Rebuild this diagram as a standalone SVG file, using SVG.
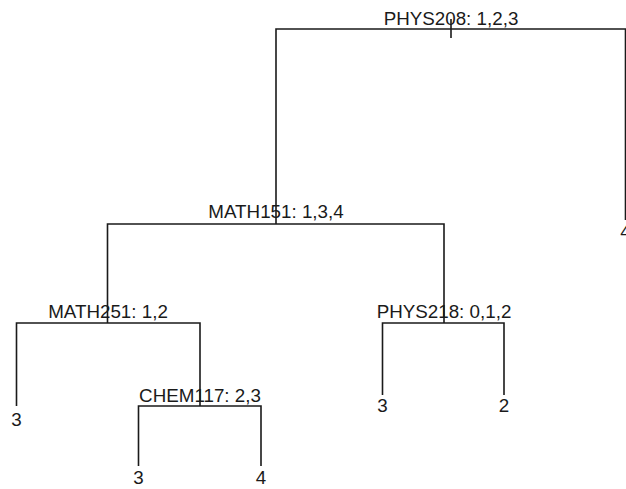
<svg xmlns="http://www.w3.org/2000/svg" width="626" height="489" viewBox="0 0 626 489">
  <style>
    .edge { fill: none; stroke: #1a1a1a; stroke-width: 1.6; stroke-linecap: butt; }
    text { font-family: "Liberation Sans", Arial, sans-serif; font-size: 18.8px; fill: #1a1a1a; text-anchor: middle; }
  </style>
  <rect width="626" height="489" fill="#ffffff"/>

  <!-- tree branches -->
  <g id="connectors">
    <!-- root stub -->
    <path class="edge" d="M451 19 V38"/>
    <!-- root split -->
    <path class="edge" d="M276 224 V29 H625.5 V220"/>
    <!-- MATH151 split -->
    <path class="edge" d="M107.5 323 V224 H444 V323"/>
    <!-- MATH251 split -->
    <path class="edge" d="M16.5 406 V323 H200 V406"/>
    <!-- CHEM117 split -->
    <path class="edge" d="M138.5 466 V406 H261 V466"/>
    <!-- PHYS218 split -->
    <path class="edge" d="M382.5 395 V323 H504 V395"/>
  </g>

  <g id="node-phys208"><text x="451" y="25">PHYS208: 1,2,3</text></g>
  <g id="node-math151"><text x="276" y="217.5">MATH151: 1,3,4</text></g>
  <g id="leaf-root-right"><text x="625.5" y="238">4</text></g>
  <g id="node-math251"><text x="108" y="317.5">MATH251: 1,2</text></g>
  <g id="node-phys218"><text x="444" y="317.5">PHYS218: 0,1,2</text></g>
  <g id="leaf-math251-left"><text x="16.5" y="426">3</text></g>
  <g id="node-chem117"><text x="200" y="401.5">CHEM117: 2,3</text></g>
  <g id="leaf-phys218-left"><text x="382.5" y="412">3</text></g>
  <g id="leaf-phys218-right"><text x="504" y="412">2</text></g>
  <g id="leaf-chem117-left"><text x="138.5" y="484">3</text></g>
  <g id="leaf-chem117-right"><text x="261" y="484">4</text></g>
</svg>
